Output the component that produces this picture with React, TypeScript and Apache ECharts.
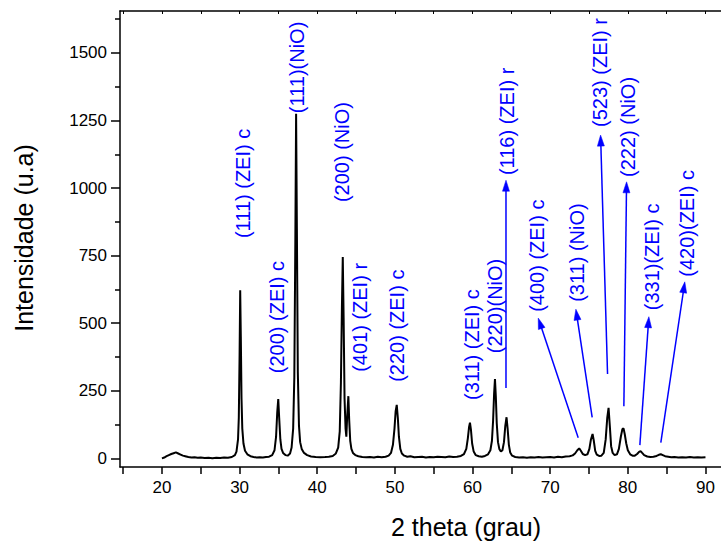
import React, { useEffect, useRef } from "react";
import * as echarts from "echarts";

// 2θ (degrees) and intensity (a.u.)
const twoTheta = [
  20.0, 20.3, 20.6, 20.9, 21.2, 21.5, 21.8, 22.1, 22.4, 22.7, 23.0, 23.4, 23.8, 24.2, 24.6, 25.0, 25.5, 26.0, 26.5, 27.0,
  27.5, 28.0, 28.5, 29.0, 29.4, 29.6, 29.8, 29.9, 30.0, 30.08, 30.16, 30.25, 30.35, 30.5, 30.7, 31.0, 31.4, 31.8, 32.2, 32.6,
  33.0, 33.4, 33.8, 34.2, 34.5, 34.7, 34.85, 34.98, 35.1, 35.25, 35.4, 35.6, 35.9, 36.2, 36.5, 36.7, 36.9, 37.05, 37.18, 37.28,
  37.38, 37.5, 37.65, 37.8, 38.0, 38.3, 38.7, 39.2, 39.8, 40.4, 41.0, 41.5, 42.0, 42.4, 42.7, 42.9, 43.05, 43.18, 43.29, 43.4,
  43.52, 43.65, 43.75, 43.85, 44.01, 44.12, 44.25, 44.4, 44.6, 44.9, 45.3, 45.8, 46.3, 46.8, 47.3, 47.8, 48.3, 48.8, 49.2, 49.5,
  49.75, 49.95, 50.1, 50.24, 50.38, 50.52, 50.7, 50.9, 51.2, 51.6, 52.0, 52.5, 53.0, 53.5, 54.0, 54.5, 55.0, 55.5, 56.0, 56.5,
  57.0, 57.5, 58.0, 58.5, 58.9, 59.2, 59.4, 59.55, 59.67, 59.8, 59.95, 60.15, 60.4, 60.8, 61.2, 61.6, 62.0, 62.3, 62.5, 62.65,
  62.78, 62.89, 63.0, 63.12, 63.28, 63.45, 63.65, 63.85, 64.05, 64.22, 64.38, 64.52, 64.68, 64.85, 65.1, 65.5, 66.0, 66.5, 67.0, 67.5,
  68.0, 68.5, 69.0, 69.5, 70.0, 70.5, 71.0, 71.5, 72.0, 72.5, 72.9, 73.2, 73.5, 73.74, 73.95, 74.2, 74.5, 74.8, 75.05, 75.25,
  75.46, 75.62, 75.8, 76.0, 76.3, 76.6, 76.9, 77.15, 77.35, 77.52, 77.68, 77.85, 78.05, 78.3, 78.6, 78.85, 79.1, 79.3, 79.45, 79.6,
  79.8, 80.0, 80.3, 80.6, 80.9, 81.2, 81.45, 81.64, 81.85, 82.1, 82.5, 82.9, 83.3, 83.7, 84.0, 84.25, 84.5, 84.8, 85.2, 85.6,
  86.0, 86.5, 87.0, 87.5, 88.0, 88.5, 89.0, 89.5, 90.0,
];
const intensity = [
  0, 3, 8, 12, 16, 19, 22, 18, 14, 10, 8, 5, 3, 4, 2, 3, 1, 2, 0, 2,
  1, 3, 2, 5, 12, 25, 70, 150, 380, 622, 450, 220, 110, 55, 28, 15, 8, 5, 3, 4,
  3, 5, 6, 12, 30, 80, 170, 219, 150, 70, 35, 20, 12, 10, 18, 40, 110, 300, 800, 1275,
  850, 320, 120, 60, 35, 20, 12, 7, 5, 4, 5, 6, 9, 18, 40, 100, 280, 560, 745, 520,
  220, 110, 80, 150, 230, 140, 65, 35, 20, 12, 8, 5, 4, 5, 3, 6, 4, 6, 10, 20,
  50, 110, 175, 198, 150, 80, 35, 18, 10, 6, 8, 4, 5, 6, 3, 5, 4, 6, 5, 4,
  7, 5, 6, 9, 16, 35, 75, 115, 132, 105, 55, 25, 12, 8, 6, 9, 15, 30, 65, 140,
  240, 293, 230, 130, 60, 35, 25, 30, 60, 120, 152, 110, 50, 22, 10, 5, 3, 4, 2, 4,
  3, 5, 3, 4, 5, 3, 6, 4, 7, 8, 11, 18, 30, 37, 28, 16, 12, 15, 35, 70,
  90, 65, 28, 14, 9, 10, 20, 70, 150, 187, 120, 45, 20, 12, 15, 35, 80, 108, 111, 90,
  55, 30, 15, 10, 10, 16, 24, 27, 20, 12, 7, 5, 6, 9, 13, 15, 12, 8, 6, 4,
  5, 3, 4, 3, 5, 3, 4, 3, 4,
];

// Axis ticks and labels
const xTickValues = [15, 20, 25, 30, 35, 40, 45, 50, 55, 60, 65, 70, 75, 80, 85, 90];
const xLabelValues = [20, 30, 40, 50, 60, 70, 80, 90];
const yLabelValues = [0, 250, 500, 750, 1000, 1250, 1500];
const yMinorValues = [125, 375, 625, 875, 1125, 1375, 1625];

// Peak annotations: text and anchor (bottom of the vertical text) in data coordinates
const peakLabels = [
  "(111) (ZEI) c", "(200) (ZEI) c", "(111)(NiO)", "(200) (NiO)", "(401) (ZEI) r",
  "(220) (ZEI) c", "(311) (ZEI) c", "(220)(NiO)", "(116) (ZEI) r", "(400) (ZEI) c",
  "(311) (NiO)", "(523) (ZEI) r", "(222) (NiO)", "(331)(ZEI) c", "(420)(ZEI) c",
];
const peakLabelX = [30.46, 34.8, 37.35, 43.16, 45.52, 50.24, 59.89, 62.89, 64.4, 68.26, 73.4, 76.4, 80.04, 83.05, 87.56];
const peakLabelY = [815, 315, 1277, 948, 320, 283, 216, 389, 1048, 542, 579, 1226, 1041, 548, 672];

// Arrows (from peak towards label) in data coordinates
const arrowFromX = [64.31, 73.61, 75.41, 77.39, 79.49, 81.55, 84.25];
const arrowFromY = [260, 76, 152, 312, 193, 49, 58];
const arrowToX = [64.31, 68.46, 73.31, 76.49, 79.84, 82.71, 87.34];
const arrowToY = [1029, 519, 552, 1196, 1023, 524, 653];

const FONT = "'Liberation Sans', Arial, Helvetica, sans-serif";
const BLUE = "#0000ff";

export default function App() {
  const ref = useRef<HTMLDivElement>(null);

  useEffect(() => {
    const chart = echarts.init(ref.current!, null, { renderer: "svg" });
    const data = twoTheta.map((x, i) => [x, intensity[i]]);
    const axisLineStyle = { color: "#000", width: 1.5 };
    const plain = (v: number) => String(v);

    chart.setOption({
      animation: false,
      backgroundColor: "#fff",
      grid: { left: 120, right: 0, top: 11, bottom: 75, containLabel: false, outerBoundsMode: "none" },
      xAxis: [
        {
          type: "value",
          position: "bottom",
          min: 14.6,
          max: 92,
          axisLine: { show: true, onZero: false, lineStyle: axisLineStyle },
          axisTick: { show: true, inside: false, length: 7, customValues: xTickValues, lineStyle: { color: "#000", width: 1.5 } },
          axisLabel: { show: true, customValues: xLabelValues, formatter: plain, color: "#000", fontSize: 17, fontFamily: FONT, margin: 12 },
          splitLine: { show: false },
        },
        {
          type: "value",
          position: "top",
          min: 14.6,
          max: 92,
          axisLine: { show: true, onZero: false, lineStyle: axisLineStyle },
          axisTick: { show: true, inside: true, length: 3, customValues: xTickValues, lineStyle: { color: "#000", width: 1 } },
          axisLabel: { show: false },
          splitLine: { show: false },
        },
      ],
      yAxis: [
        {
          type: "value",
          position: "left",
          min: -32,
          max: 1655,
          axisLine: { show: true, onZero: false, lineStyle: axisLineStyle },
          axisTick: { show: true, inside: false, length: 9, customValues: yLabelValues, lineStyle: { color: "#000", width: 1.5 } },
          axisLabel: { show: true, customValues: yLabelValues, formatter: plain, color: "#000", fontSize: 17, fontFamily: FONT, margin: 13 },
          splitLine: { show: false },
        },
        {
          type: "value",
          position: "left",
          offset: 0,
          min: -32,
          max: 1655,
          axisLine: { show: false },
          axisTick: { show: true, inside: false, length: 5, customValues: yMinorValues, lineStyle: { color: "#000", width: 1.5 } },
          axisLabel: { show: false },
          splitLine: { show: false },
        },
      ],
      series: [
        {
          type: "line",
          xAxisIndex: 0,
          yAxisIndex: 0,
          data,
          showSymbol: false,
          symbol: "none",
          lineStyle: { color: "#000", width: 2 },
          z: 3,
        },
      ],
    });

    const toPx = (x: number, y: number) => chart.convertToPixel({ seriesIndex: 0 }, [x, y]) as number[];
    const elements: any[] = [];

    peakLabels.forEach((t, i) => {
      const p = toPx(peakLabelX[i], peakLabelY[i]);
      elements.push({
        type: "text",
        x: p[0],
        y: p[1],
        rotation: Math.PI / 2,
        z: 10,
        style: { text: t, fill: BLUE, fontSize: 20, fontFamily: FONT, align: "left", verticalAlign: "middle" },
      });
    });

    arrowFromX.forEach((_, i) => {
      const a = toPx(arrowFromX[i], arrowFromY[i]);
      const b = toPx(arrowToX[i], arrowToY[i]);
      const dx = b[0] - a[0];
      const dy = b[1] - a[1];
      const len = Math.sqrt(dx * dx + dy * dy);
      const ux = dx / len;
      const uy = dy / len;
      const headLen = 11;
      const headHalf = 3.5;
      const bx = b[0] - ux * headLen;
      const by = b[1] - uy * headLen;
      elements.push({
        type: "line",
        z: 10,
        shape: { x1: a[0], y1: a[1], x2: bx + ux * 2, y2: by + uy * 2 },
        style: { stroke: BLUE, lineWidth: 1.5 },
      });
      elements.push({
        type: "polygon",
        z: 10,
        shape: {
          points: [
            [b[0], b[1]],
            [bx - uy * headHalf, by + ux * headHalf],
            [bx + uy * headHalf, by - ux * headHalf],
          ],
        },
        style: { fill: BLUE, stroke: BLUE, lineWidth: 0.5 },
      });
    });

    elements.push({
      type: "text",
      x: 24,
      y: 238,
      rotation: Math.PI / 2,
      style: { text: "Intensidade (u.a)", fill: "#000", fontSize: 25, fontFamily: FONT, align: "center", verticalAlign: "middle" },
    });
    elements.push({
      type: "text",
      x: 466,
      y: 527,
      style: { text: "2 theta (grau)", fill: "#000", fontSize: 25, fontFamily: FONT, align: "center", verticalAlign: "middle" },
    });

    chart.setOption({ graphic: { elements } });

    return () => chart.dispose();
  }, []);

  return (
    <div style={{ position: "fixed", left: 0, top: 0, width: 721, height: 542, overflow: "hidden", background: "#fff" }}>
      <div ref={ref} style={{ width: 721, height: 542 }} />
    </div>
  );
}
